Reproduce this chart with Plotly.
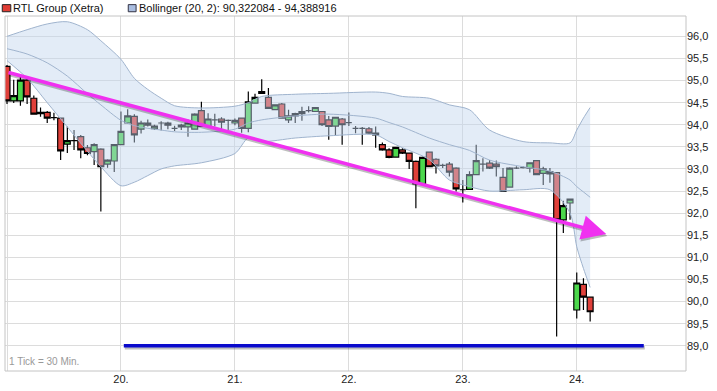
import plotly.graph_objects as go

# ---------------- data (30-min candles, index 0 = first candle shown) ----------------
opens = [95.32, 94.54, 94.54, 95.01, 94.60, 94.28, 94.28, 94.16, 94.15, 93.56, 93.64, 93.73, 93.48, 93.39, 93.45, 93.11, 93.18,
         93.55, 94.04, 94.19, 93.90, 94.04, 93.91, 94.04, 94.04, 93.92, 93.99, 93.95, 93.90, 94.32, 93.97, 94.11, 94.13, 94.10,
         94.04, 94.15, 93.92, 94.49, 94.71, 94.62, 94.34, 94.47, 94.11, 94.20, 94.25, 94.32, 94.30, 94.30, 94.11, 93.97, 94.13,
         94.05, 93.92, 93.92, 93.91, 93.81, 93.55, 93.43, 93.27, 93.43, 93.36, 93.17, 92.66, 93.38, 93.22, 93.08, 93.11, 93.02,
         92.53, 92.54, 92.87, 93.11, 93.13, 93.11, 92.81, 92.59, 93.02, 93.03, 93.02, 93.19, 92.90, 92.94, 92.92, 91.85, 92.23,
         89.81, 90.39, 90.10]
highs = [95.35, 95.02, 95.10, 95.10, 94.66, 94.39, 94.31, 94.27, 94.15, 93.96, 93.88, 93.77, 93.54, 93.58, 93.47, 93.22, 93.56,
         94.30, 94.35, 94.24, 94.09, 94.12, 94.00, 94.08, 94.07, 93.98, 94.02, 94.12, 94.26, 94.52, 94.26, 94.25, 94.17, 94.12,
         94.14, 94.16, 94.75, 94.70, 95.03, 94.83, 94.46, 94.49, 94.34, 94.27, 94.41, 94.42, 94.40, 94.31, 94.20, 94.18, 94.15,
         94.28, 93.97, 93.95, 93.95, 93.96, 93.60, 93.47, 93.50, 93.47, 93.37, 93.19, 93.28, 93.39, 93.24, 93.12, 93.16, 93.04,
         92.75, 92.95, 93.55, 93.24, 93.20, 93.19, 93.02, 93.04, 93.06, 93.06, 93.15, 93.20, 93.05, 93.02, 92.93, 92.28, 92.33,
         90.66, 90.53, 90.11]
lows = [94.47, 94.49, 94.43, 94.47, 94.24, 94.18, 94.04, 94.10, 93.20, 93.36, 93.43, 93.24, 93.31, 93.09, 92.04, 93.03, 92.93,
        93.55, 94.02, 93.60, 93.80, 93.96, 93.88, 93.87, 93.90, 93.86, 93.88, 93.73, 93.89, 93.95, 93.96, 93.96, 93.88, 93.87,
        93.99, 93.82, 93.83, 94.48, 94.70, 94.36, 94.33, 94.14, 94.04, 94.04, 94.09, 94.28, 94.29, 93.97, 93.66, 93.77, 93.55,
        93.97, 93.81, 93.55, 93.79, 93.48, 93.41, 93.24, 93.26, 93.34, 93.00, 92.11, 92.65, 93.04, 92.90, 93.02, 92.83, 92.49,
        92.24, 92.53, 92.86, 92.94, 93.00, 92.83, 92.48, 92.58, 93.00, 93.01, 92.92, 92.86, 92.64, 92.69, 89.21, 91.55, 91.85,
        89.62, 89.81, 89.55]
closes = [94.54, 94.66, 95.01, 94.63, 94.24, 94.25, 94.15, 94.16, 93.41, 93.64, 93.64, 93.43, 93.35, 93.55, 93.05, 93.20, 93.55,
          93.85, 94.20, 93.77, 94.04, 93.99, 93.97, 94.04, 93.99, 93.92, 93.95, 94.04, 94.24, 93.96, 94.13, 94.11, 94.06, 94.10,
          94.10, 93.92, 94.52, 94.62, 94.75, 94.37, 94.45, 94.15, 94.20, 94.25, 94.30, 94.32, 94.39, 94.00, 93.96, 94.17, 94.00,
          94.05, 93.92, 93.92, 93.81, 93.77, 93.43, 93.26, 93.49, 93.36, 93.17, 92.66, 93.26, 93.05, 93.07, 93.08, 92.93, 92.55,
          92.53, 92.87, 93.19, 93.11, 93.02, 93.05, 92.49, 93.02, 93.02, 93.03, 93.14, 92.87, 93.00, 92.89, 91.85, 92.17, 92.32,
          90.42, 90.10, 89.77]
candle_idx = list(range(len(closes)))

# Bollinger (20, 2) band at selected candles
bb_idx = [0, 3, 6, 9, 12, 14, 17, 19, 21, 23, 25, 29, 34, 36, 38, 43, 48, 55, 57, 59, 63, 66, 69, 72, 77, 81, 84, 85, 86, 87]
bb_upper = [96.00, 96.15, 96.28, 96.33, 96.15, 95.90, 95.48, 95.05, 94.80, 94.60, 94.43, 94.38, 94.42, 94.50, 94.64, 94.69,
            94.71, 94.74, 94.71, 94.64, 94.60, 94.45, 94.34, 93.88, 93.62, 93.59, 93.59, 93.88, 94.15, 94.39]
bb_mid = [95.72, 95.60, 95.40, 95.10, 94.70, 94.45, 94.10, 93.98, 93.92, 93.88, 93.84, 93.83, 93.90, 94.04, 94.11, 94.20,
          94.24, 94.15, 94.05, 93.95, 93.70, 93.55, 93.42, 93.20, 93.05, 92.95, 92.75, 92.60, 92.48, 92.36]
bb_lower = [95.45, 95.05, 94.50, 93.95, 93.40, 93.05, 92.62, 92.70, 92.85, 93.00, 93.07, 93.14, 93.35, 93.70, 93.62, 93.70,
            93.75, 93.77, 93.62, 93.48, 93.21, 92.75, 92.60, 92.50, 92.53, 92.53, 92.00, 91.24, 90.75, 90.32]

# day separators (first candle of each day) and their labels
day_ticks = [0, 17, 34, 51, 68, 85]
day_labels = ["", "20.", "21.", "22.", "23.", "24."]

# price axis ticks
price_ticks = [89.0, 89.5, 90.0, 90.5, 91.0, 91.5, 92.0, 92.5, 93.0, 93.5, 94.0, 94.5, 95.0, 95.5, 96.0]
price_labels = [f"{v:.1f}".replace(".", ",") for v in price_ticks]

# drawn trend lines (index, price)
trend_start = (0.0, 95.19)
trend_end = (89.4, 91.53)
support_start = (17.2, 89.0)
support_end = (95.0, 89.0)

legend_main = "RTL Group (Xetra)"
legend_bb = "Bollinger (20, 2): 90,322084 - 94,388916"

# ---------------- figure ----------------
FONT = "Liberation Sans"
fig = go.Figure()

band_line = dict(color="rgb(160,180,206)", width=1, shape="spline", smoothing=0.8)
fig.add_trace(go.Scatter(x=bb_idx, y=bb_upper, mode="lines", line=band_line, hoverinfo="skip", showlegend=False))
fig.add_trace(go.Scatter(x=bb_idx, y=bb_lower, mode="lines", line=band_line, fill="tonexty",
                         fillcolor="rgba(193,213,237,0.45)", hoverinfo="skip", showlegend=False))
fig.add_trace(go.Scatter(x=bb_idx, y=bb_mid, mode="lines", line=band_line, hoverinfo="skip", showlegend=False))

fig.add_trace(go.Candlestick(
    x=candle_idx, open=opens, high=highs, low=lows, close=closes,
    increasing=dict(line=dict(color="black", width=1.2), fillcolor="#4cd84c"),
    decreasing=dict(line=dict(color="black", width=1.2), fillcolor="#e0403a"),
    whiskerwidth=0, hoverinfo="skip", showlegend=False))

# shadows + lines (annotations as arrows between data points)
def seg(p0, p1, color, width, head, xs=0, ys=0, size=1.0):
    fig.add_annotation(x=p1[0], y=p1[1], ax=p0[0], ay=p0[1], xref="x", yref="y", axref="x", ayref="y",
                       text="", showarrow=True, arrowhead=head, arrowsize=size, arrowwidth=width,
                       arrowcolor=color, standoff=0, startstandoff=0, xshift=xs, yshift=ys)

seg(support_start, support_end, "rgba(0,0,0,0.25)", 3.5, 0, xs=1, ys=-2)
seg(support_start, support_end, "#0a0acc", 3.5, 0)
seg(trend_start, trend_end, "rgba(0,0,0,0.25)", 3.5, 2, xs=1, ys=-2, size=1.4)
seg(trend_start, trend_end, "#f030f0", 3.5, 2, size=1.4)

# legend
fig.add_shape(type="rect", xref="paper", yref="paper", x0=-0.004, x1=0.0085, y0=1.012, y1=1.032,
              line=dict(color="#222", width=1), fillcolor="#e03c34")
fig.add_annotation(xref="paper", yref="paper", x=0.0095, y=1.022, text=legend_main, showarrow=False,
                   xanchor="left", yanchor="middle", font=dict(family=FONT, size=11, color="#111"))
fig.add_shape(type="rect", xref="paper", yref="paper", x0=0.181, x1=0.1925, y0=1.012, y1=1.032,
              line=dict(color="#334", width=1), fillcolor="#a9bde0")
fig.add_annotation(xref="paper", yref="paper", x=0.1945, y=1.022, text=legend_bb, showarrow=False,
                   xanchor="left", yanchor="middle", font=dict(family=FONT, size=11, color="#111"))
fig.add_annotation(xref="paper", yref="paper", x=0.003, y=0.005, text="1 Tick = 30 Min.", showarrow=False,
                   xanchor="left", yanchor="bottom", font=dict(family=FONT, size=10, color="#999"))

# plot border
fig.add_shape(type="rect", xref="paper", yref="paper", x0=0, x1=1, y0=0, y1=1,
              line=dict(color="#c4c4c4", width=1), layer="above")

fig.update_layout(
    width=717, height=391,
    margin=dict(l=5, r=31, t=16, b=20),
    paper_bgcolor="white", plot_bgcolor="white",
    font=dict(family=FONT, size=11, color="#222"),
    showlegend=False,
    boxgap=0.12, boxgroupgap=0.0,
    xaxis=dict(range=[-0.3, 101.3], tickvals=day_ticks, ticktext=day_labels, showgrid=True,
               gridcolor="#dcdcdc", gridwidth=1, zeroline=False, showline=False, ticks="",
               rangeslider=dict(visible=False), fixedrange=True, tickfont=dict(size=11)),
    yaxis=dict(range=[88.43, 96.46], side="right", tickvals=price_ticks, ticktext=price_labels,
               showgrid=True, gridcolor="#dcdcdc", gridwidth=1, zeroline=False, showline=False,
               ticks="", fixedrange=True, tickfont=dict(size=11)),
)

fig.write_html("out.html", config=dict(displayModeBar=False),
               post_script="document.body.style.margin='0';document.body.style.overflow='hidden';")
